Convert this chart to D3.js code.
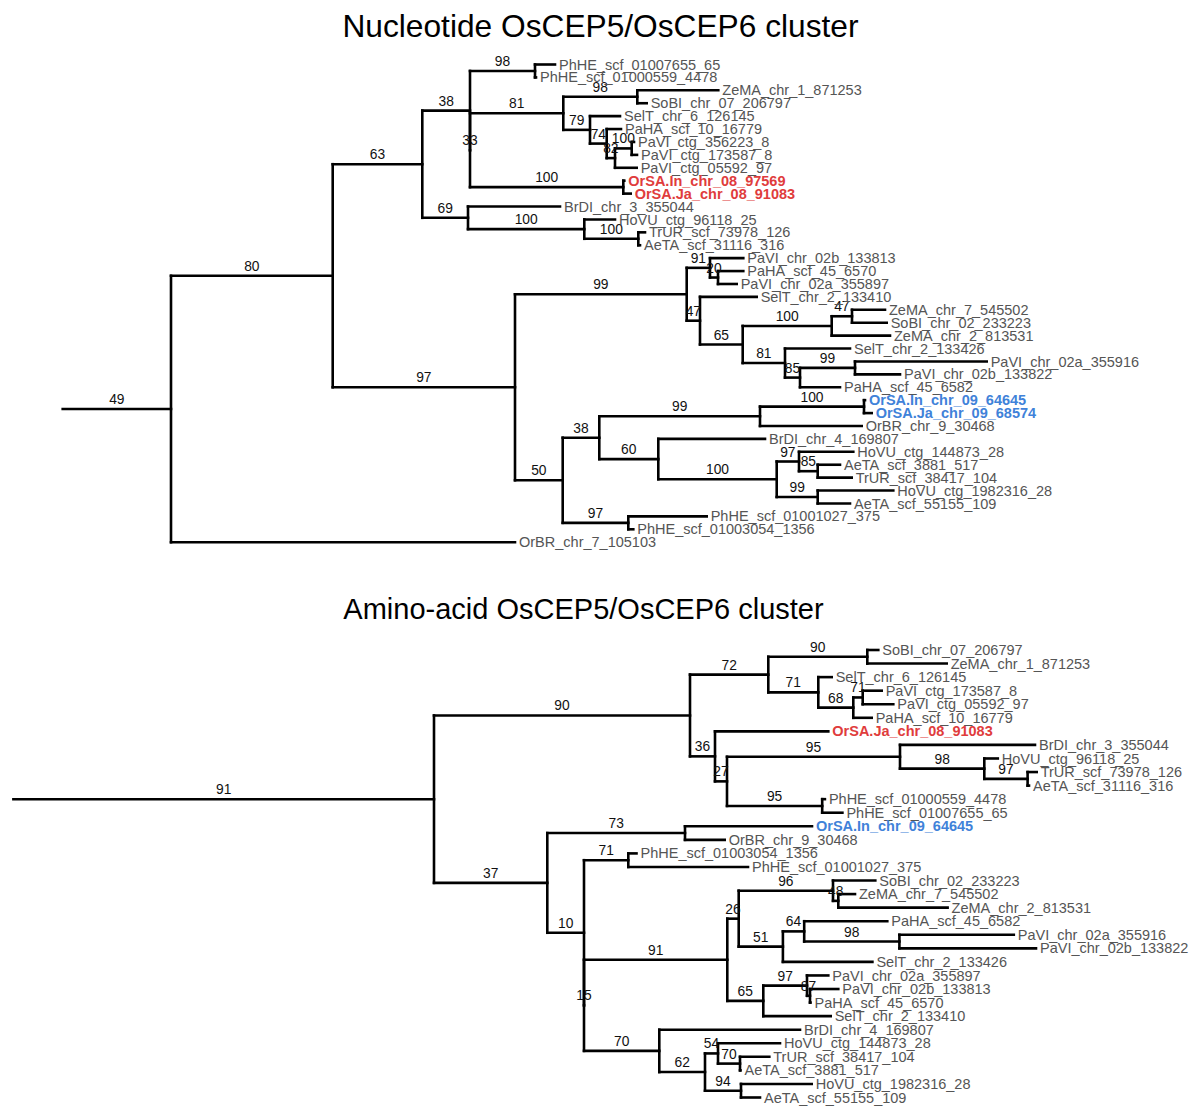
<!DOCTYPE html>
<meta charset="utf-8">
<script src="https://d3js.org/d3.v7.min.js"></script>
<style>
    body {
        margin: 0;
        background-color: white;
    }
    text {
        font-family: "Liberation Sans", Arial, Helvetica, sans-serif;
    }
    .tip {
        font-size: 14.5px;
        fill: #555;
    }
    .boot {
        font-size: 13.8px;
        fill: #111;
    }
    .title {
        font-size: 31.7px;
        fill: #000;
    }
</style>

<div id="my_dataviz"></div>

<script>
    // each row: node, parent, branch length, bootstrap (tips have none)
    var nucleotideTree = [
        ["n49", "", 0.1083, 49],
        ["n80", "n49", 0.1617, 80],
        ["n63", "n80", 0.0896, 63],
        ["n38", "n63", 0.0477, 38],
        ["n98a", "n38", 0.0650, 98],
        ["PhHE_scf_01007655_65", "n98a", 0.0200],
        ["PhHE_scf_01000559_4478", "n98a", 0.0010],
        ["n33", "n38", 0.0000, 33],
        ["n81", "n33", 0.0933, 81],
        ["n98b", "n81", 0.0740, 98],
        ["ZeMA_chr_1_871253", "n98b", 0.0810],
        ["SoBI_chr_07_206797", "n98b", 0.0094],
        ["n79", "n81", 0.0267, 79],
        ["SelT_chr_6_126145", "n79", 0.0300],
        ["n74", "n79", 0.0167, 74],
        ["PaHA_scf_10_16779", "n74", 0.0143],
        ["n82", "n74", 0.0083, 82],
        ["n100a", "n82", 0.0167, 100],
        ["PaVI_ctg_356223_8", "n100a", 0.0023],
        ["PaVI_ctg_173587_8", "n100a", 0.0053],
        ["PaVI_ctg_05592_97", "n82", 0.0217],
        ["n100b", "n33", 0.1533, 100],
        ["OrSA.In_chr_08_97569", "n100b", 0.0010],
        ["OrSA.Ja_chr_08_91083", "n100b", 0.0074],
        ["n69", "n63", 0.0457, 69],
        ["BrDI_chr_3_355044", "n69", 0.0920],
        ["n100c", "n69", 0.1163, 100],
        ["HoVU_ctg_96118_25", "n100c", 0.0307],
        ["n100d", "n100c", 0.0540, 100],
        ["TrUR_scf_73978_126", "n100d", 0.0067],
        ["AeTA_scf_31116_316", "n100d", 0.0017],
        ["n97", "n80", 0.1823, 97],
        ["n99", "n97", 0.1717, 99],
        ["n91", "n99", 0.0233, 91],
        ["PaVI_chr_02b_133813", "n91", 0.0333],
        ["n20", "n91", 0.0080, 20],
        ["PaHA_scf_45_6570", "n20", 0.0253],
        ["PaVI_chr_02a_355897", "n20", 0.0187],
        ["n47", "n99", 0.0133, 47],
        ["SelT_chr_2_133410", "n47", 0.0567],
        ["n65", "n47", 0.0427, 65],
        ["n100e", "n65", 0.0890, 100],
        ["n47b", "n100e", 0.0203, 47],
        ["ZeMA_chr_7_545502", "n47b", 0.0330],
        ["SoBI_chr_02_233223", "n47b", 0.0347],
        ["ZeMA_chr_2_813531", "n100e", 0.0583],
        ["n81b", "n65", 0.0423, 81],
        ["SelT_chr_2_133426", "n81b", 0.0650],
        ["n85", "n81b", 0.0150, 85],
        ["n99b", "n85", 0.0550, 99],
        ["PaVI_chr_02a_355916", "n99b", 0.1317],
        ["PaVI_chr_02b_133822", "n99b", 0.0450],
        ["PaHA_scf_45_6582", "n85", 0.0400],
        ["n50", "n97", 0.0477, 50],
        ["n38b", "n50", 0.0366, 38],
        ["n99c", "n38b", 0.1607, 99],
        ["n100f", "n99c", 0.1040, 100],
        ["OrSA.In_chr_09_64645", "n100f", 0.0010],
        ["OrSA.Ja_chr_09_68574", "n100f", 0.0077],
        ["OrBR_chr_9_30468", "n99c", 0.1017],
        ["n60", "n38b", 0.0590, 60],
        ["BrDI_chr_4_169807", "n60", 0.1067],
        ["n100g", "n60", 0.1184, 100],
        ["n97c", "n100g", 0.0223, 97],
        ["HoVU_ctg_144873_28", "n97c", 0.0543],
        ["n85c", "n97c", 0.0187, 85],
        ["AeTA_scf_3881_517", "n85c", 0.0223],
        ["TrUR_scf_38417_104", "n85c", 0.0340],
        ["n99d", "n100g", 0.0410, 99],
        ["HoVU_ctg_1982316_28", "n99d", 0.0756],
        ["AeTA_scf_55155_109", "n99d", 0.0323],
        ["n97b", "n50", 0.0656, 97],
        ["PhHE_scf_01001027_375", "n97b", 0.0784],
        ["PhHE_scf_01003054_1356", "n97b", 0.0050],
        ["OrBR_chr_7_105103", "n49", 0.3440]
    ];

    var aminoTree = [
        ["a91", "", 0.4206, 91],
        ["a90", "a91", 0.2560, 90],
        ["a72", "a90", 0.0783, 72],
        ["a90b", "a72", 0.0990, 90],
        ["SoBI_chr_07_206797", "a90b", 0.0110],
        ["ZeMA_chr_1_871253", "a90b", 0.0794],
        ["a71", "a72", 0.0500, 71],
        ["SelT_chr_6_126145", "a71", 0.0134],
        ["a68", "a71", 0.0350, 68],
        ["a71b", "a68", 0.0094, 71],
        ["PaVI_ctg_173587_8", "a71b", 0.0190],
        ["PaVI_ctg_05592_97", "a71b", 0.0306],
        ["PaHA_scf_10_16779", "a68", 0.0184],
        ["a36", "a90", 0.0250, 36],
        ["OrSA.Ja_chr_08_91083", "a36", 0.1133],
        ["a27", "a36", 0.0120, 27],
        ["a95", "a27", 0.1730, 95],
        ["BrDI_chr_3_355044", "a95", 0.1350],
        ["a98", "a95", 0.0843, 98],
        ["HoVU_ctg_96118_25", "a98", 0.0135],
        ["a97", "a98", 0.0433, 97],
        ["TrUR_scf_73978_126", "a97", 0.0091],
        ["AeTA_scf_31116_316", "a97", 0.0014],
        ["a95b", "a27", 0.0952, 95],
        ["PhHE_scf_01000559_4478", "a95b", 0.0027],
        ["PhHE_scf_01007655_65", "a95b", 0.0202],
        ["a37", "a91", 0.1133, 37],
        ["a73", "a37", 0.1377, 73],
        ["OrSA.In_chr_09_64645", "a73", 0.1270],
        ["OrBR_chr_9_30468", "a73", 0.0397],
        ["a10", "a37", 0.0367, 10],
        ["a71c", "a10", 0.0443, 71],
        ["PhHE_scf_01003054_1356", "a71c", 0.0082],
        ["PhHE_scf_01001027_375", "a71c", 0.1197],
        ["a15", "a10", 0.0000, 15],
        ["a91b", "a15", 0.1433, 91],
        ["a26", "a91b", 0.0114, 26],
        ["a96", "a26", 0.0943, 96],
        ["SoBI_chr_02_233223", "a96", 0.0423],
        ["a48", "a96", 0.0053, 48],
        ["ZeMA_chr_7_545502", "a48", 0.0167],
        ["ZeMA_chr_2_813531", "a48", 0.1093],
        ["a51", "a26", 0.0442, 51],
        ["a64", "a51", 0.0213, 64],
        ["PaHA_scf_45_6582", "a64", 0.0831],
        ["a98b", "a64", 0.0952, 98],
        ["PaVI_chr_02a_355916", "a98b", 0.1144],
        ["PaVI_chr_02b_133822", "a98b", 0.1366],
        ["SelT_chr_2_133426", "a51", 0.0895],
        ["a65", "a91b", 0.0360, 65],
        ["a97b", "a65", 0.0437, 97],
        ["PaVI_chr_02a_355897", "a97b", 0.0213],
        ["a87", "a97b", 0.0030, 87],
        ["PaVI_chr_02b_133813", "a87", 0.0283],
        ["PaHA_scf_45_6570", "a87", 0.0005],
        ["SelT_chr_2_133410", "a65", 0.0674],
        ["a70", "a15", 0.0753, 70],
        ["BrDI_chr_4_169807", "a70", 0.1407],
        ["a62", "a70", 0.0457, 62],
        ["a54", "a62", 0.0130, 54],
        ["HoVU_ctg_144873_28", "a54", 0.0620],
        ["a70b", "a54", 0.0220, 70],
        ["TrUR_scf_38417_104", "a70b", 0.0293],
        ["AeTA_scf_3881_517", "a70b", 0.0005],
        ["a94", "a62", 0.0360, 94],
        ["HoVU_ctg_1982316_28", "a94", 0.0707],
        ["AeTA_scf_55155_109", "a94", 0.0190]
    ];

    // OsCEP5 (chr 08) and OsCEP6 (chr 09) genes
    var cep5Tips = ["OrSA.In_chr_08_97569", "OrSA.Ja_chr_08_91083"];
    var cep6Tips = ["OrSA.In_chr_09_64645", "OrSA.Ja_chr_09_68574"];

    var titles = ["Nucleotide OsCEP5/OsCEP6 cluster", "Amino-acid OsCEP5/OsCEP6 cluster"];

    var svg = d3.select("#my_dataviz")
        .append("svg")
        .attr("width", 1200)
        .attr("height", 1119);

    function drawTree(rows, x0, yFirst, yLast) {
        var root = d3.stratify()
            .id(function(d) { return d[0]; })
            .parentId(function(d) { return d[1]; })(rows);

        // distance from the start of the root edge
        root.eachBefore(function(n) {
            n.dist = (n.parent ? n.parent.dist : 0) + n.data[2];
        });

        var leaves = root.leaves();

        var x = d3.scaleLinear()
            .domain([0, 1])
            .range([x0, x0 + 1000]);

        var y = d3.scalePoint()
            .domain(leaves.map(function(d) { return d.id; }))
            .range([yFirst, yLast]);

        root.eachAfter(function(n) {
            if (n.children) {
                n.y = (n.children[0].y + n.children[n.children.length - 1].y) / 2;
            } else {
                n.y = y(n.id);
            }
        });

        var g = svg.append("g");
        var nodes = root.descendants();
        var inner = nodes.filter(function(d) { return d.children; });

        // horizontal branches (root edge included)
        g.selectAll("line.h")
            .data(nodes)
            .enter()
            .append("line")
            .attr("x1", function(d) { return x(d.dist - d.data[2]); })
            .attr("x2", function(d) { return x(d.dist); })
            .attr("y1", function(d) { return d.y; })
            .attr("y2", function(d) { return d.y; })
            .style("stroke", "#000")
            .style("stroke-width", 2.6)
            .style("stroke-linecap", "square");

        // vertical connectors
        g.selectAll("line.v")
            .data(inner)
            .enter()
            .append("line")
            .attr("x1", function(d) { return x(d.dist); })
            .attr("x2", function(d) { return x(d.dist); })
            .attr("y1", function(d) { return d.children[0].y; })
            .attr("y2", function(d) { return d.children[d.children.length - 1].y; })
            .style("stroke", "#000")
            .style("stroke-width", 2.6)
            .style("stroke-linecap", "square");

        // bootstrap values, above the middle of each branch
        g.selectAll("text.boot")
            .data(inner)
            .enter()
            .append("text")
            .attr("class", "boot")
            .attr("text-anchor", "middle")
            .attr("x", function(d) { return x(d.dist - d.data[2] / 2); })
            .attr("y", function(d) { return d.y - 5; })
            .text(function(d) { return d.data[3]; });

        // tip labels
        g.selectAll("text.tip")
            .data(leaves)
            .enter()
            .append("text")
            .attr("class", "tip")
            .attr("x", function(d) { return x(d.dist) + 4; })
            .attr("y", function(d) { return d.y; })
            .attr("dy", "0.35em")
            .style("fill", function(d) {
                if (cep5Tips.indexOf(d.id) >= 0) return "#e03c3c";
                if (cep6Tips.indexOf(d.id) >= 0) return "#3f82d9";
                return null;
            })
            .style("font-weight", function(d) {
                return (cep5Tips.indexOf(d.id) >= 0 || cep6Tips.indexOf(d.id) >= 0) ? "bold" : null;
            })
            .text(function(d) { return d.id; });
    }

    svg.append("text")
        .attr("class", "title")
        .attr("text-anchor", "middle")
        .attr("x", 600.5)
        .attr("y", 37)
        .text(titles[0]);

    svg.append("text")
        .attr("class", "title")
        .attr("text-anchor", "middle")
        .attr("x", 583.5)
        .attr("y", 619)
        .style("font-size", "29px")
        .text(titles[1]);

    drawTree(nucleotideTree, 62.7, 64.5, 542.2);
    drawTree(aminoTree, 13.4, 650, 1097.5);
</script>
